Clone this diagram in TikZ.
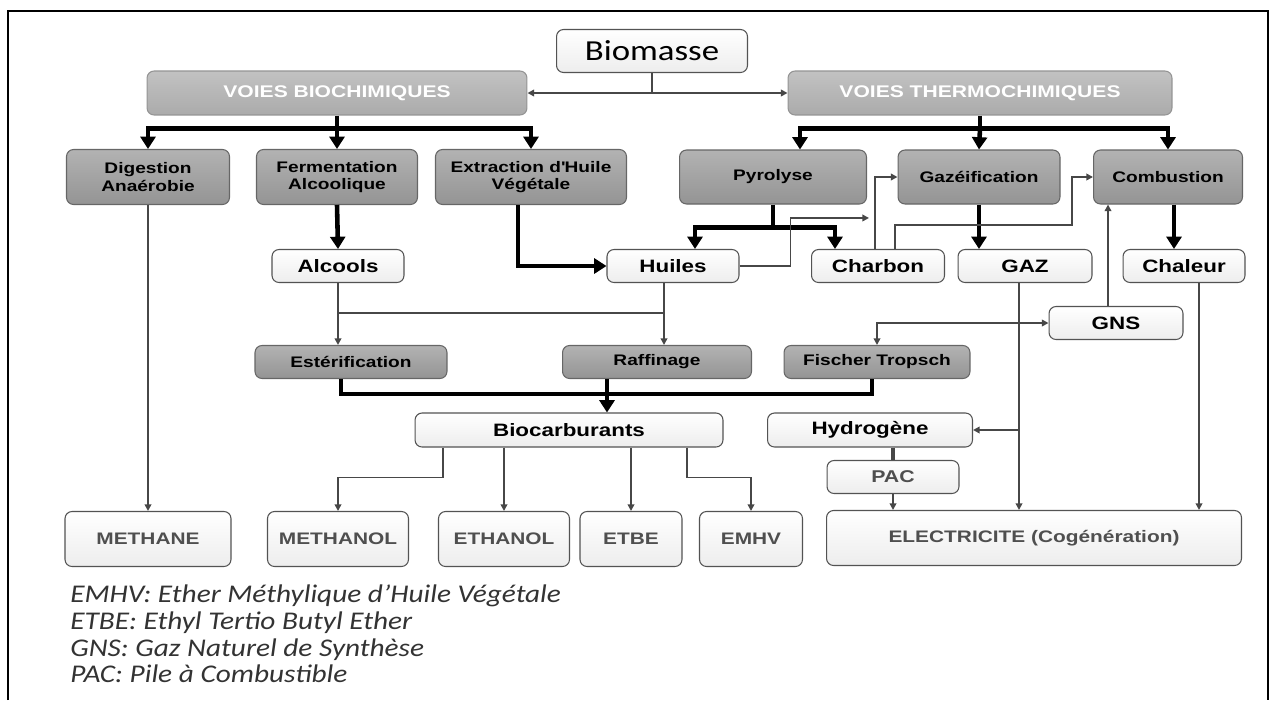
\documentclass[tikz,border=0pt]{standalone}
\usepackage{fontspec}
\setmainfont{Liberation Sans}
\newfontfamily\arw[FakeStretch=1.25]{Liberation Sans}
\newfontfamily\clb[FakeStretch=1.2]{Carlito}
\newfontfamily\clbi[FakeStretch=1.15]{Carlito}
\usetikzlibrary{calc}
\usetikzlibrary{arrows.meta}
\definecolor{ln}{HTML}{474747}

\begin{document}
\begin{tikzpicture}[x=0.02cm,y=-0.02cm,
	bx/.style={rounded corners=4pt, inner sep=0pt, align=center, line width=0.6pt, font=\arw\bfseries\fontsize{8.7}{9.8}\selectfont},
	dk/.style={bx, draw=black!60, top color=black!30, bottom color=black!42, minimum height=1.1cm},
	vo/.style={bx, draw=black!42, top color=black!24, bottom color=black!33, text=white, minimum height=0.88cm, font=\arw\bfseries\fontsize{9.6}{11}\selectfont},
	lt/.style={bx, draw=gray!65!black, top color=white, bottom color=gray!14, minimum height=0.66cm, font=\arw\bfseries\fontsize{10.2}{12}\selectfont},
	en/.style={lt, text=gray!62!black, minimum height=1.1cm, font=\arw\bfseries\fontsize{9.5}{11}\selectfont},
	tk/.style={line width=2.6pt, black},
	ta/.style={tk, -{Triangle[width=8.5pt,length=7pt]}},
	tn/.style={line width=1pt, ln},
	na/.style={tn, -{Triangle[width=3.8pt,length=3.8pt]}},
	nb/.style={tn, {Triangle[width=3.8pt,length=3.8pt]}-{Triangle[width=3.8pt,length=3.8pt]}},
	lg/.style={anchor=base west, inner sep=0pt, font=\clbi\itshape\fontsize{14.5}{15}\selectfont, text=black!80}]
\useasboundingbox (0,0) rectangle (1273,700);
\draw[line width=1.4pt] (8,700) -- (8,11) -- (1268,11) -- (1268,700);

% top
\node (bms) at (652,51) [bx, draw=gray!65!black, top color=white, bottom color=gray!14, minimum width=3.82cm, minimum height=0.86cm, font=\clb\fontsize{16.5}{18}\selectfont] {Biomasse};
\node (vb) at (337,93) [vo, minimum width=7.6cm] {VOIES BIOCHIMIQUES};
\node (vt) at (980,93) [vo, minimum width=7.68cm] {VOIES THERMOCHIMIQUES};

% procedes
\node (dig) at (148,177) [dk, minimum width=3.26cm] {Digestion\\Anaérobie};
\node (fer) at (337,177) [dk, minimum width=3.22cm] {Fermentation\\Alcoolique};
\node (ext) at (531,177) [dk, minimum width=3.82cm] {Extraction d\textquotesingle Huile\\Végétale};
\node (pyr) at (773,177) [dk, minimum width=3.74cm, minimum height=1.08cm] {Pyrolyse};
\node (gaz) at (979,177) [dk, minimum width=3.24cm, minimum height=1.08cm] {Gazéification};
\node (com) at (1168,177) [dk, minimum width=2.98cm, minimum height=1.08cm] {Combustion};

% produits
\node (alc) at (338,266) [lt, minimum width=2.64cm] {Alcools};
\node (hui) at (673,266) [lt, minimum width=2.64cm] {Huiles};
\node (cha) at (878,266) [lt, minimum width=2.66cm] {Charbon};
\node (gz) at (1025,266) [lt, minimum width=2.68cm] {GAZ};
\node (chl) at (1184,266) [lt, minimum width=2.44cm] {Chaleur};
\node (gns) at (1116,323) [lt, minimum width=2.68cm] {GNS};

\node (est) at (351,362) [dk, minimum width=3.84cm, minimum height=0.66cm] {Estérification};
\node (raf) at (657,362) [dk, minimum width=3.78cm, minimum height=0.66cm] {Raffinage};
\node (fis) at (877,362) [dk, minimum width=3.72cm, minimum height=0.66cm] {Fischer Tropsch};

\node (bcb) at (569,430) [lt, minimum width=6.16cm, minimum height=0.68cm] {Biocarburants};
\node (hyd) at (870,430) [lt, minimum width=4.1cm, minimum height=0.68cm] {Hydrogène};
\node (pac) at (893,477) [lt, text=gray!62!black, minimum width=2.64cm, font=\arw\bfseries\fontsize{9.7}{11}\selectfont] {PAC};

% finaux
\node (met) at (148,539) [en, minimum width=3.32cm] {METHANE};
\node (mol) at (338,539) [en, minimum width=2.82cm] {METHANOL};
\node (eth) at (504,539) [en, minimum width=2.62cm] {ETHANOL};
\node (etb) at (631,539) [en, minimum width=2.04cm] {ETBE};
\node (emh) at (751,539) [en, minimum width=2.06cm] {EMHV};
\node (ele) at (1034,538) [en, minimum width=8.3cm] {ELECTRICITE (Cogénération)};

% biomasse -> voies
\draw[tn] (bms.south) -- (bms.south |- vb.east);
\draw[nb] (vb.east) -- (vt.west);

\draw[tk] (vb.south) -- ++(0,13) coordinate (b0);
\draw[ta] (b0) -| (dig.north);
\draw[ta] (b0) -| (ext.north);
\draw[ta] (b0) -- (fer.north);
\draw[tk] (vt.south) -- ++(0,13) coordinate (t0);
\draw[ta] (t0) -| ($(pyr.north)+(27,0)$);
\draw[ta] (t0) -| (com.north);
\draw[ta] (t0) -- (gaz.north);

% thick links
\draw[ta] (fer.south) -- (alc.north);
\draw[ta] ($(ext.south)+(-13,0)$) |- (hui.west);
\draw[tk] (pyr.south) -- ++(0,23) coordinate (p0);
\draw[ta] (p0) -| ($(hui.north)+(22,0)$);
\draw[ta] (p0) -| ($(cha.north)+(-43,0)$);
\draw[ta] (gaz.south) -- (gaz.south |- gz.north);
\coordinate (c3) at ($(com.south)+(6,0)$);
\draw[ta] (c3) -- (c3 |- chl.north);

% thin links
\draw[na] (dig.south) -- (met.north);
\coordinate (h1) at ($(hui.south)+(-9,0)$);
\coordinate (a1) at ($(alc.south)+(0,30)$);
\draw[na] (alc.south) -- (alc.south |- est.north);
\draw[na] (h1) -- (h1 |- raf.north);
\draw[tn] (a1) -- (a1 -| h1);

\coordinate (c1) at ($(cha.north)+(-3,0)$);
\coordinate (c2) at ($(cha.north)+(17,0)$);
\draw[na] (c1) |- (gaz.west);
\draw[na] (hui.east) -- ++(51,0) |- ($(c1)+(-6,-31)$);
\draw[na] (c2) -- ++(0,-24) -| ($(com.west)+(-21,0)$) -- (com.west);

\coordinate (g0) at ($(gz.south)+(-6,0)$);
\draw[na] (g0) -- (g0 |- ele.north);
\draw[na] (g0 |- hyd.east) -- (hyd.east);
\draw[nb] (fis.north) |- (gns.west);
\coordinate (n0) at ($(gns.north)+(-8,0)$);
\draw[na] (n0) -- (n0 |- com.south);
\coordinate (c4) at ($(chl.south)+(15,0)$);
\draw[na] (c4) -- (c4 |- ele.north);
\draw[line width=2pt, ln] (pac.north |- hyd.south) -- (pac.north);
\draw[na] (pac.south) -- (pac.south |- ele.north);

% vers biocarburants
\coordinate (e0) at ($(est.south)+(-10,0)$);
\draw[tk] (e0) -- ++(0,15) -| ($(fis.south)+(-5,0)$);
\coordinate (r0) at ($(raf.south)+(-50,0)$);
\draw[ta] (r0) -- (r0 |- bcb.north);

\draw[na] ($(bcb.south)+(-126,0)$) -- ++(0,30) -| (mol.north);
\draw[na] (eth.north |- bcb.south) -- (eth.north);
\draw[na] (etb.north |- bcb.south) -- (etb.north);
\draw[na] ($(bcb.south)+(118,0)$) -- ++(0,30) -| (emh.north);

% legende
\foreach \t [count=\i] in {EMHV: Ether Méthylique d’Huile Végétale, ETBE: Ethyl Tertio Butyl Ether, GNS: Gaz Naturel de Synthèse, PAC: Pile à Combustible}
	\node[lg] (lg\i) at (70,576+26.7*\i) {\t};
\end{tikzpicture}
\end{document}
